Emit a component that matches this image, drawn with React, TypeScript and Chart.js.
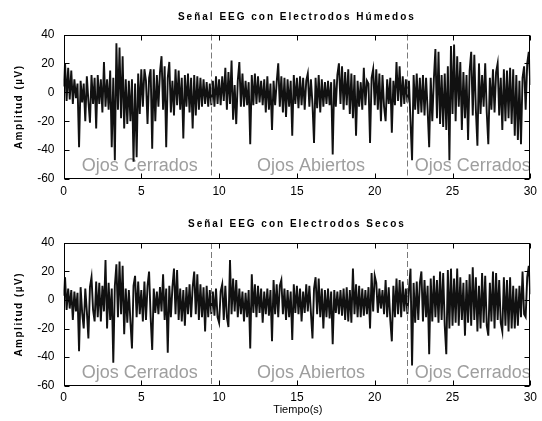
import React, { useEffect, useRef } from "react";
import { Chart, registerables } from "chart.js";

Chart.register(...registerables);

// ---- data ----
const sampleStep = 0.1; // seconds between samples
const xTickValues = [0, 5, 10, 15, 20, 25, 30];
const yTickValues = [-60, -40, -20, 0, 20, 40];
const markerTimes = [9.5, 22.1];
const regionLabels = ["Ojos Cerrados", "Ojos Abiertos", "Ojos Cerrados"];
const regionCenters = [4.9, 15.9, 26.3];
const regionLabelLevel = -51;

const wetTitle = "Señal EEG con Electrodos Húmedos";
const dryTitle = "Señal EEG con Electrodos Secos";
const yTitle = "Amplitud (µV)";
const xTitle = "Tiempo(s)";

const wetSignal = [
  4, 20, -6, 17, -5, 15, -8, 9, -4, 6,
  -38, 8, -7, 6, -20, 11, -6, -21, 12, -8,
  10, -25, 12, -8, 9, -14, 21, -10, 9, -12,
  15, -38, 10, -47, 34, -12, 31, -18, 25, -25,
  9, -22, 8, -20, 9, -48, 6, -45, 13, -15,
  16, -10, 16, 8, -22, 10, 16, -39, 16, -20,
  12, -10, 14, 25, -12, 18, -38, 10, 21, -14,
  8, -16, 16, -9, 15, -12, 10, -32, 12, -10,
  13, -14, 10, -25, 12, -16, 11, -12, 10, -10,
  9, -8, 7, -10, 6, -9, 8, -10, 11, -8,
  9, -9, 11, -6, 17, -12, 14, -8, 22, -19,
  5, -22, 8, 21, -10, 13, -10, 8, -9, 7,
  -36, 12, -9, 13, -8, 11, -7, 8, -9, 9,
  -14, 11, -12, 6, -26, 8, -9, 7, 20, -10,
  11, -14, 10, -17, 9, -10, 8, -30, 12, -8,
  10, -11, 11, -9, 10, -12, 8, 13, -10, 9,
  -8, -35, 10, -11, 12, -14, 9, -10, 7, -8,
  8, -9, 7, -43, 9, -10, 12, 20, -8, 18,
  -12, 14, -9, 16, -15, 13, -18, 12, -30, 8,
  -10, 7, -12, 17, -9, 8, 6, -35, 10, 16,
  -9, 16, -12, 13, -20, 12, -10, -20, 9, -8,
  10, -28, 8, -9, 21, -6, 18, -10, 11, -8,
  9, -7, 8, -20, -47, 12, -12, 13, -15, 10,
  -14, 12, -16, 10, -12, -38, 10, -20, 9, 30,
  -18, 28, -22, 12, -24, 13, -26, 18, -47, 32,
  -15, 33, -20, 25, -10, 21, -26, 14, -18, 12,
  -33, 15, 28, -16, 26, -12, -37, 20, -15, 12,
  -10, 20, -14, -36, 10, -12, 16, -14, 14, 20,
  -16, 10, -26, 16, -20, 15, -18, 17, -22, 16,
  -30, 12, -33, 8, -36, 10, 18, -12, 20, 28,
  5,
];

const drySignal = [
  3, 16, -7, 8, -6, 7, -14, 6, -8, 5,
  -36, 9, -9, -20, 8, -8, -27, 9, 16, -7,
  -15, 13, -12, 12, -15, 10, -8, 28, -20, 12,
  -14, 8, -44, 10, 25, -12, 27, -10, 24, -24,
  8, -16, 7, -15, -34, 10, 17, -12, 13, -10,
  7, -15, 13, -14, 10, 20, -12, -35, 8, -9,
  6, -10, 9, -8, 18, -14, 8, -37, 10, -12,
  9, 22, -10, 21, -14, 8, -15, 7, -18, 9,
  -10, 11, -12, 9, 20, -10, 18, -14, 11, -12,
  9, -22, 10, -12, 7, -10, 6, -11, 8, -12,
  -16, 6, 11, -14, 10, -12, -19, 28, -10, 15,
  -8, 14, -12, 8, -10, 6, -15, 5, -12, 7,
  -34, 18, -9, 11, -12, 10, -9, 8, -16, 6,
  -10, 8, -11, 7, -29, 14, -10, 11, -12, 10,
  14, -10, 8, -14, 7, -12, 6, -28, 11, -9,
  10, -10, 8, -15, 6, -9, 11, -8, 10, -9,
  -27, 8, 16, -10, 15, -12, 8, -20, 7, -12,
  8, -13, 6, -31, 7, -9, 6, -10, 7, -11,
  8, -14, 9, -15, 7, -16, 22, -10, 11, -12,
  10, -12, 8, -11, 7, -10, 9, -20, 19, -8,
  17, 12, -9, 8, -6, 7, -10, 14, -12, 9,
  -14, -29, 10, -12, 15, -10, 14, -12, 13, -8,
  8, -10, 7, 22, -46, 12, -16, 13, -14, 12,
  20, -15, 14, -12, 10, -38, 15, -15, 17, -12,
  14, -16, 20, -14, 19, -18, -38, 21, -20, 22,
  -18, 15, -16, 22, -18, 16, -14, 12, -25, 14,
  -16, 18, -18, 23, -14, 16, -22, 10, -20, 19,
  -16, 17, -18, -25, 12, -15, 20, -20, 19, -14,
  14, -16, -22, 16, -18, 14, -22, 16, -20, 10,
  -20, 8, -18, 10, -12, 20, -10, -12, 16, 24,
  4,
];

const FONT = "'Liberation Sans', Arial, Helvetica, sans-serif";

type PanelProps = {
  signal: number[];
  title: string;
  height: number;
  topPad: number;
  xAxisH: number;
  titleY: number;
  showXTitle: boolean;
  xTitleY: number;
};

function makeDecor(p: PanelProps) {
  return {
    id: "eegDecor",
    beforeDatasetsDraw(chart: any) {
      const { ctx, scales } = chart;
      const x = scales.x;
      const y = scales.y;
      ctx.save();
      ctx.fillStyle = "#9e9e9e";
      ctx.font = `18px ${FONT}`;
      ctx.textAlign = "center";
      ctx.textBaseline = "middle";
      regionLabels.forEach((lab, i) => {
        ctx.fillText(lab, x.getPixelForValue(regionCenters[i]), y.getPixelForValue(regionLabelLevel));
      });
      ctx.restore();
    },
    afterDatasetsDraw(chart: any) {
      const { ctx, chartArea: a, scales } = chart;
      const x = scales.x;
      const y = scales.y;
      ctx.save();
      // dashed markers
      ctx.strokeStyle = "#7a7a7a";
      ctx.lineWidth = 1;
      ctx.setLineDash([6, 3]);
      markerTimes.forEach((t) => {
        const px = Math.round(x.getPixelForValue(t)) + 0.5;
        ctx.beginPath();
        ctx.moveTo(px, a.top);
        ctx.lineTo(px, a.bottom);
        ctx.stroke();
      });
      ctx.setLineDash([]);
      // box
      ctx.strokeStyle = "#000";
      ctx.lineWidth = 1;
      const l = Math.round(a.left) + 0.5;
      const r = Math.round(a.right) - 0.5;
      const tp = Math.round(a.top) + 0.5;
      const b = Math.round(a.bottom) - 0.5;
      ctx.strokeRect(l, tp, r - l, b - tp);
      // inward ticks
      const tl = 5;
      ctx.beginPath();
      xTickValues.forEach((v) => {
        const px = Math.round(x.getPixelForValue(v)) + 0.5;
        ctx.moveTo(px, b);
        ctx.lineTo(px, b - tl);
        ctx.moveTo(px, tp);
        ctx.lineTo(px, tp + tl);
      });
      yTickValues.forEach((v) => {
        const py = Math.round(y.getPixelForValue(v)) + 0.5;
        ctx.moveTo(l, py);
        ctx.lineTo(l + tl, py);
        ctx.moveTo(r, py);
        ctx.lineTo(r - tl, py);
      });
      ctx.stroke();

      // title
      ctx.fillStyle = "#000";
      ctx.textAlign = "center";
      ctx.textBaseline = "middle";
      ctx.font = `bold 10px ${FONT}`;
      (ctx as any).letterSpacing = "2px";
      ctx.fillText(p.title, (a.left + a.right) / 2, p.titleY);

      // y title
      ctx.save();
      ctx.translate(19, (a.top + a.bottom) / 2);
      ctx.rotate(-Math.PI / 2);
      ctx.font = `bold 10px ${FONT}`;
      (ctx as any).letterSpacing = "1.5px";
      ctx.fillText(yTitle, 0, 0);
      ctx.restore();

      if (p.showXTitle) {
        (ctx as any).letterSpacing = "0px";
        ctx.font = `11px ${FONT}`;
        ctx.fillText(xTitle, (a.left + a.right) / 2 + 1, p.xTitleY);
      }
      ctx.restore();
    },
  };
}

function EegPanel(p: PanelProps) {
  const ref = useRef<HTMLCanvasElement>(null);
  useEffect(() => {
    const points = p.signal.map((v, i) => ({ x: i * sampleStep, y: v }));
    const chart = new Chart(ref.current as HTMLCanvasElement, {
      type: "line",
      data: {
        datasets: [
          {
            data: points,
            borderColor: "#111111",
            borderWidth: 1.9,
            pointRadius: 0,
            tension: 0,
            fill: false,
          },
        ],
      },
      options: {
        animation: false,
        responsive: false,
        events: [],
        layout: { padding: { top: p.topPad, right: 8.5, left: 0, bottom: 0 } },
        plugins: { legend: { display: false }, tooltip: { enabled: false }, title: { display: false } },
        scales: {
          x: {
            type: "linear",
            min: 0,
            max: 30,
            grid: { display: false, drawTicks: false },
            border: { display: false },
            ticks: {
              stepSize: 5,
              autoSkip: false,
              maxRotation: 0,
              padding: 5,
              color: "#000",
              font: { family: FONT, size: 12 },
            },
            afterFit: (s: any) => {
              s.height = p.xAxisH;
            },
          },
          y: {
            type: "linear",
            min: -60,
            max: 40,
            grid: { display: false, drawTicks: false },
            border: { display: false },
            ticks: {
              stepSize: 20,
              padding: 9,
              color: "#000",
              font: { family: FONT, size: 12 },
            },
            afterFit: (s: any) => {
              s.width = 63.5;
            },
          },
        },
      },
      plugins: [makeDecor(p)],
    } as any);
    return () => chart.destroy();
  }, []);
  return (
    <canvas
      ref={ref}
      width={542}
      height={p.height}
      style={{ display: "block", width: 542, height: p.height }}
    />
  );
}

export default function App() {
  return (
    <div style={{ position: "absolute", left: 0, top: 0, width: 542, height: 421, background: "#fff" }}>
      <EegPanel
        signal={wetSignal}
        title={wetTitle}
        height={210}
        topPad={34.5}
        xAxisH={31}
        titleY={17}
        showXTitle={false}
        xTitleY={0}
      />
      <EegPanel
        signal={drySignal}
        title={dryTitle}
        height={211}
        topPad={33}
        xAxisH={35.5}
        titleY={14}
        showXTitle={true}
        xTitleY={200}
      />
    </div>
  );
}
